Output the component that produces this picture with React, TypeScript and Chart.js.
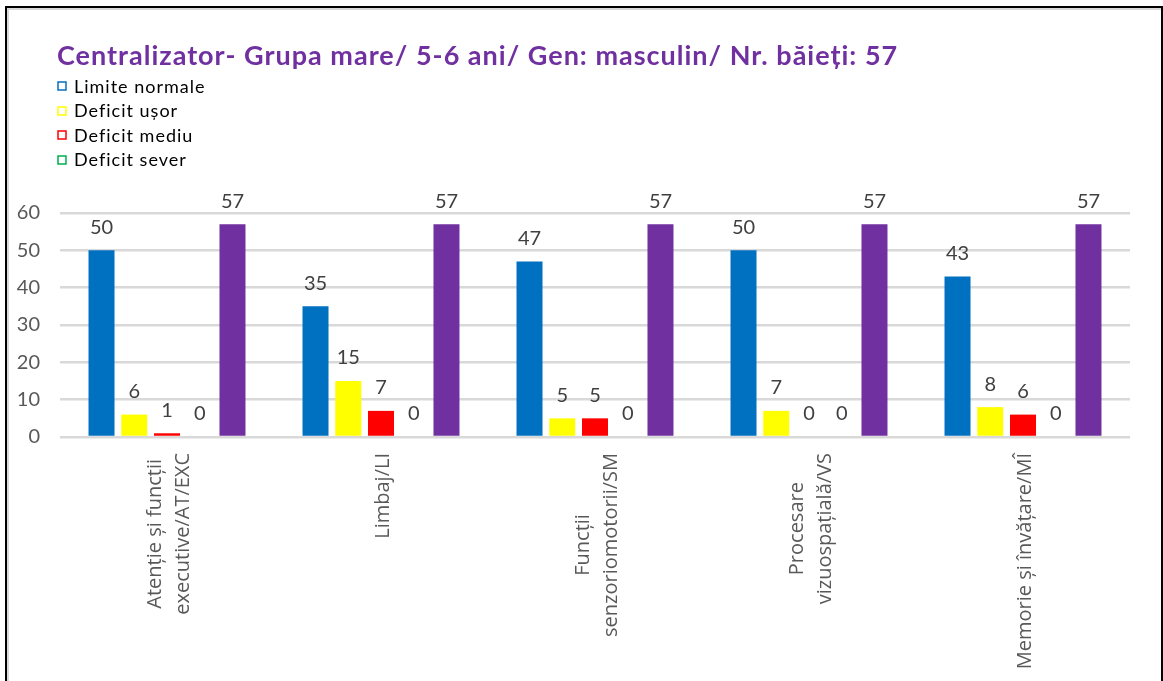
import React, { useEffect, useRef } from "react";
import { Chart, registerables } from "chart.js";

Chart.register(...registerables);

const TITLE = "Centralizator- Grupa mare/ 5-6 ani/ Gen: masculin/ Nr. băieți: 57";

const categories: string[][] = [
  ["Atenție și funcții", "executive/AT/EXC"],
  ["Limbaj/LI"],
  ["Funcții", "senzoriomotorii/SM"],
  ["Procesare", "vizuospațială/VS"],
  ["Memorie și învățare/MÎ"],
];

const seriesNames = ["Limite normale", "Deficit ușor", "Deficit mediu", "Deficit sever", "Total"];
const limiteNormale = [50, 35, 47, 50, 43];
const deficitUsor = [6, 15, 5, 7, 8];
const deficitMediu = [1, 7, 5, 0, 6];
const deficitSever = [0, 0, 0, 0, 0];
const total = [57, 57, 57, 57, 57];
const seriesColors = ["#0070C0", "#FFFF00", "#FF0000", "#00B050", "#7030A0"];
const legendShown = [true, true, true, true, false];

const Y_MIN = 0;
const Y_MAX = 60;
const Y_STEP = 10;

const W = 1163;
const H = 681;

const headerPlugin = {
  id: "header",
  afterDraw(chart: any) {
    const ctx = chart.ctx;
    ctx.save();
    ctx.fillStyle = "#7030A0";
    ctx.font = "bold 27px Lato";
    ctx.textAlign = "left";
    ctx.textBaseline = "alphabetic";
    (ctx as any).letterSpacing = "1px";
    ctx.fillText(TITLE, 57, 65);

    ctx.font = "18px Lato";
    (ctx as any).letterSpacing = "1px";
    ctx.textBaseline = "middle";
    let row = 0;
    chart.data.datasets.forEach((ds: any, i: number) => {
      if (!legendShown[i]) return;
      const cy = 86 + row * 24.5;
      ctx.strokeStyle = ds.backgroundColor;
      ctx.lineWidth = 1.5;
      ctx.strokeRect(58, Math.round(cy) - 4, 8, 8);
      ctx.fillStyle = "#000000";
      ctx.fillText(ds.label, 74, cy + 1);
      row++;
    });
    (ctx as any).letterSpacing = "0px";
    ctx.restore();
  },
};

const dataLabelPlugin = {
  id: "dataLabels",
  afterDatasetsDraw(chart: any) {
    const ctx = chart.ctx;
    ctx.save();
    ctx.fillStyle = "#404040";
    ctx.font = "20px Lato";
    ctx.textAlign = "center";
    ctx.textBaseline = "middle";
    chart.data.datasets.forEach((ds: any, di: number) => {
      const meta = chart.getDatasetMeta(di);
      meta.data.forEach((bar: any, i: number) => {
        ctx.fillText(String(ds.data[i]), bar.x, bar.y - 23);
      });
    });
    ctx.restore();
  },
};

const xLabelPlugin = {
  id: "xLabels",
  afterDraw(chart: any) {
    const ctx = chart.ctx;
    const xs = chart.scales.x;
    const top = chart.chartArea.bottom + 16;
    const lh = 28;
    ctx.save();
    ctx.fillStyle = "#595959";
    ctx.font = "20px 'Open Sans'";
    ctx.textAlign = "center";
    ctx.textBaseline = "middle";
    categories.forEach((lines, i) => {
      const px = xs.getPixelForTick(i) + 2;
      const maxW = Math.max(...lines.map((l) => ctx.measureText(l).width));
      ctx.save();
      ctx.translate(px, top + maxW / 2);
      ctx.rotate(-Math.PI / 2);
      lines.forEach((line, j) => {
        ctx.fillText(line, 0, (j - (lines.length - 1) / 2) * lh);
      });
      ctx.restore();
    });
    ctx.restore();
  },
};

export default function App() {
  const canvasRef = useRef<HTMLCanvasElement | null>(null);

  useEffect(() => {
    document.body.style.margin = "0";
    const canvas = canvasRef.current;
    if (!canvas) return;
    const seriesData = [limiteNormale, deficitUsor, deficitMediu, deficitSever, total];
    const chart = new Chart(canvas, {
      type: "bar",
      data: {
        labels: categories.map((c) => c.join(" ")),
        datasets: seriesNames.map((name, i) => ({
          label: name,
          data: seriesData[i],
          backgroundColor: seriesColors[i],
          borderWidth: 0,
          categoryPercentage: 0.765,
          barPercentage: 0.794,
        })),
      },
      options: {
        responsive: false,
        maintainAspectRatio: false,
        animation: false,
        layout: { padding: { top: 213, right: 33, bottom: 0, left: 0 } },
        plugins: {
          legend: { display: false },
          title: { display: false },
          tooltip: { enabled: false },
        },
        scales: {
          x: {
            grid: { display: false },
            border: { display: false },
            ticks: { display: false },
            afterFit(scale: any) {
              scale.height = H - 437;
            },
          },
          y: {
            min: Y_MIN,
            max: Y_MAX,
            grid: { color: "#D9D9D9", lineWidth: 2.5, drawTicks: false },
            border: { display: false },
            ticks: {
              stepSize: Y_STEP,
              padding: 20,
              color: "#595959",
              font: { family: "Lato", size: 20 },
            },
            afterFit(scale: any) {
              scale.width = 60;
            },
          },
        },
      },
      plugins: [dataLabelPlugin, headerPlugin, xLabelPlugin],
    });
    return () => chart.destroy();
  }, []);

  return (
    <div style={{ position: "relative", width: W, height: H, overflow: "hidden", background: "#fff" }}>
      <canvas ref={canvasRef} width={W} height={H} style={{ position: "absolute", left: 0, top: 0 }} />
      <div
        style={{
          position: "absolute",
          left: 5,
          top: 6,
          width: 1158,
          height: 720,
          boxSizing: "border-box",
          borderLeft: "2px solid #000",
          borderTop: "2px solid #000",
          borderRight: "2px solid #000",
          pointerEvents: "none",
        }}
      >
        <div
          style={{
            width: "100%",
            height: "100%",
            boxSizing: "border-box",
            borderLeft: "2px solid #D9D9D9",
            borderTop: "2px solid #D9D9D9",
          }}
        />
      </div>
    </div>
  );
}
